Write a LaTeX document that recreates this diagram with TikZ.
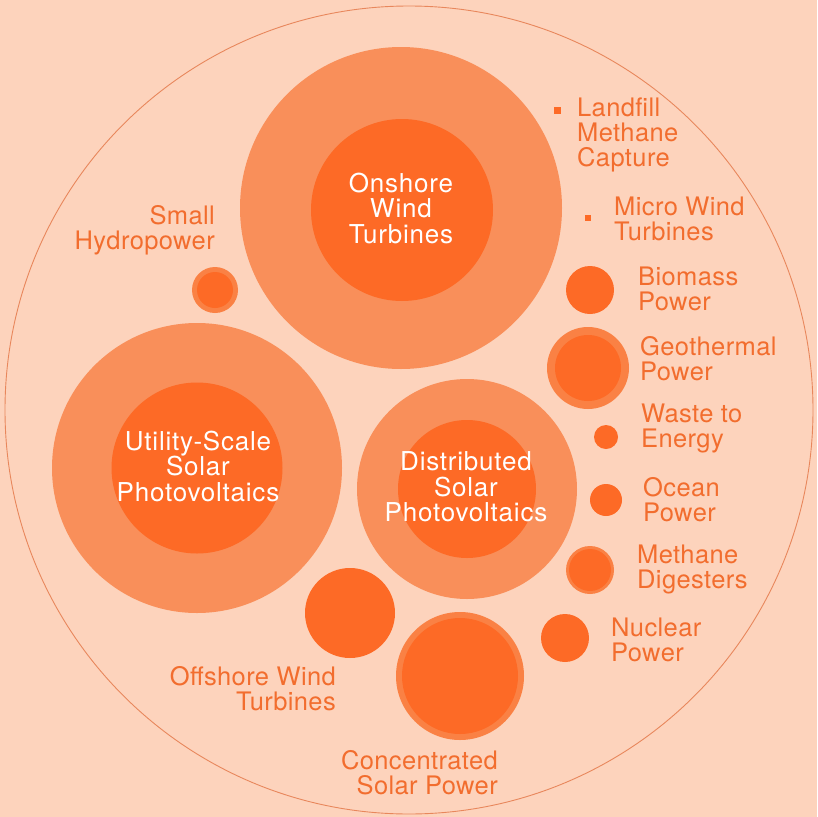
\documentclass[tikz,border=0pt]{standalone}
\usepackage{fontspec}
\setmainfont{TeX Gyre Heros}
\newfontfamily\orfont{TeX Gyre Heros}[LetterSpace=1.5]
\newfontfamily\whfont{TeX Gyre Heros}[LetterSpace=3]
\definecolor{bg}{HTML}{FDD3BC}
\definecolor{ring}{HTML}{F98F5A}
\definecolor{core}{HTML}{FD6A26}
\definecolor{smallring}{HTML}{FA8144}
\definecolor{txt}{HTML}{F26D2E}
\definecolor{outline}{HTML}{E8875C}
\tikzset{
  disc/.style={circle, fill=#1, inner sep=0pt, draw=none},
  lbl/.style={text=txt, font=\orfont\fontsize{25.5}{25}\selectfont, inner sep=0pt},
  wlbl/.style={text=white, font=\whfont\fontsize{26}{25.5}\selectfont, inner sep=0pt, align=center},
  sq/.style={rectangle, fill=core, inner sep=0pt, minimum size=#1}
}
\begin{document}
\begin{tikzpicture}[x=1pt,y=-1pt]
\useasboundingbox (0,0) rectangle (817,817);
\fill[bg] (0,0) rectangle (817,817);
\node[circle, draw=outline, line width=0.9pt, minimum size=808pt, inner sep=0pt] (frame) at (409,410) {};
% big circles
\node[disc=ring, minimum size=322pt] (onshoreO) at (401,208) {};
\node[disc=core, minimum size=182pt] (onshoreI) at (402,210) {};
\node[disc=ring, minimum size=290pt] (utilO) at (197,468) {};
\node[disc=core, minimum size=171pt] (utilI) at (197,468) {};
\node[disc=ring, minimum size=220pt] (distO) at (467,489) {};
\node[disc=core, minimum size=138pt] (distI) at (467,489) {};
% small circles
\node[disc=smallring, minimum size=46pt] (hydroO) at (215,290) {};
\node[disc=core, minimum size=36pt] (hydroI) at (215,290) {};
\node[disc=core, minimum size=48pt] (biomass) at (590,290) {};
\node[disc=smallring, minimum size=82pt] (geoO) at (588,368) {};
\node[disc=core, minimum size=66pt] (geoI) at (588,368) {};
\node[disc=core, minimum size=24pt] (waste) at (606,437) {};
\node[disc=core, minimum size=32pt] (ocean) at (606,500) {};
\node[disc=smallring, minimum size=48pt] (methO) at (590,570) {};
\node[disc=core, minimum size=42pt] (methI) at (590,570) {};
\node[disc=core, minimum size=48pt] (nuclear) at (565,638) {};
\node[disc=core, minimum size=90pt] (offshore) at (350,613) {};
\node[disc=smallring, minimum size=128pt] (cspO) at (460,676) {};
\node[disc=core, minimum size=116pt] (cspI) at (460,676) {};
\node[sq=7pt] (landfillsq) at (557,110) {};
\node[sq=6pt] (microsq) at (588,218) {};
% white labels
\node[wlbl] (onshoreT) at (401,208) {Onshore\\Wind\\Turbines};
\node[wlbl] (utilT) at (198,466) {Utility-Scale\\Solar\\Photovoltaics};
\node[wlbl] (distT) at (466,487) {Distributed\\Solar\\Photovoltaics};
% orange labels
\node[lbl, anchor=west, align=left] (landfillT) at (577,135) {Landfill\\Methane\\Capture};
\node[lbl, anchor=west, align=left] (microT) at (614,219) {Micro Wind\\Turbines};
\node[lbl, anchor=west, align=left] (biomassT) at (638,289) {Biomass\\Power};
\node[lbl, anchor=west, align=left] (geoT) at (640,359) {Geothermal\\Power};
\node[lbl, anchor=west, align=left] (wasteT) at (641,428) {Waste to\\Energy};
\node[lbl, anchor=west, align=left] (oceanT) at (643,500) {Ocean\\Power};
\node[lbl, anchor=west, align=left] (methT) at (637,569) {Methane\\Digesters};
\node[lbl, anchor=west, align=left] (nuclearT) at (611,640) {Nuclear\\Power};
\node[lbl, anchor=east, align=right] (hydroT) at (215,230) {Small\\Hydropower};
\node[lbl, anchor=east, align=right] (offshoreT) at (336,689) {Offshore Wind\\Turbines};
\node[lbl, anchor=east, align=right] (cspT) at (498,773) {Concentrated\\Solar Power};
\end{tikzpicture}
\end{document}
